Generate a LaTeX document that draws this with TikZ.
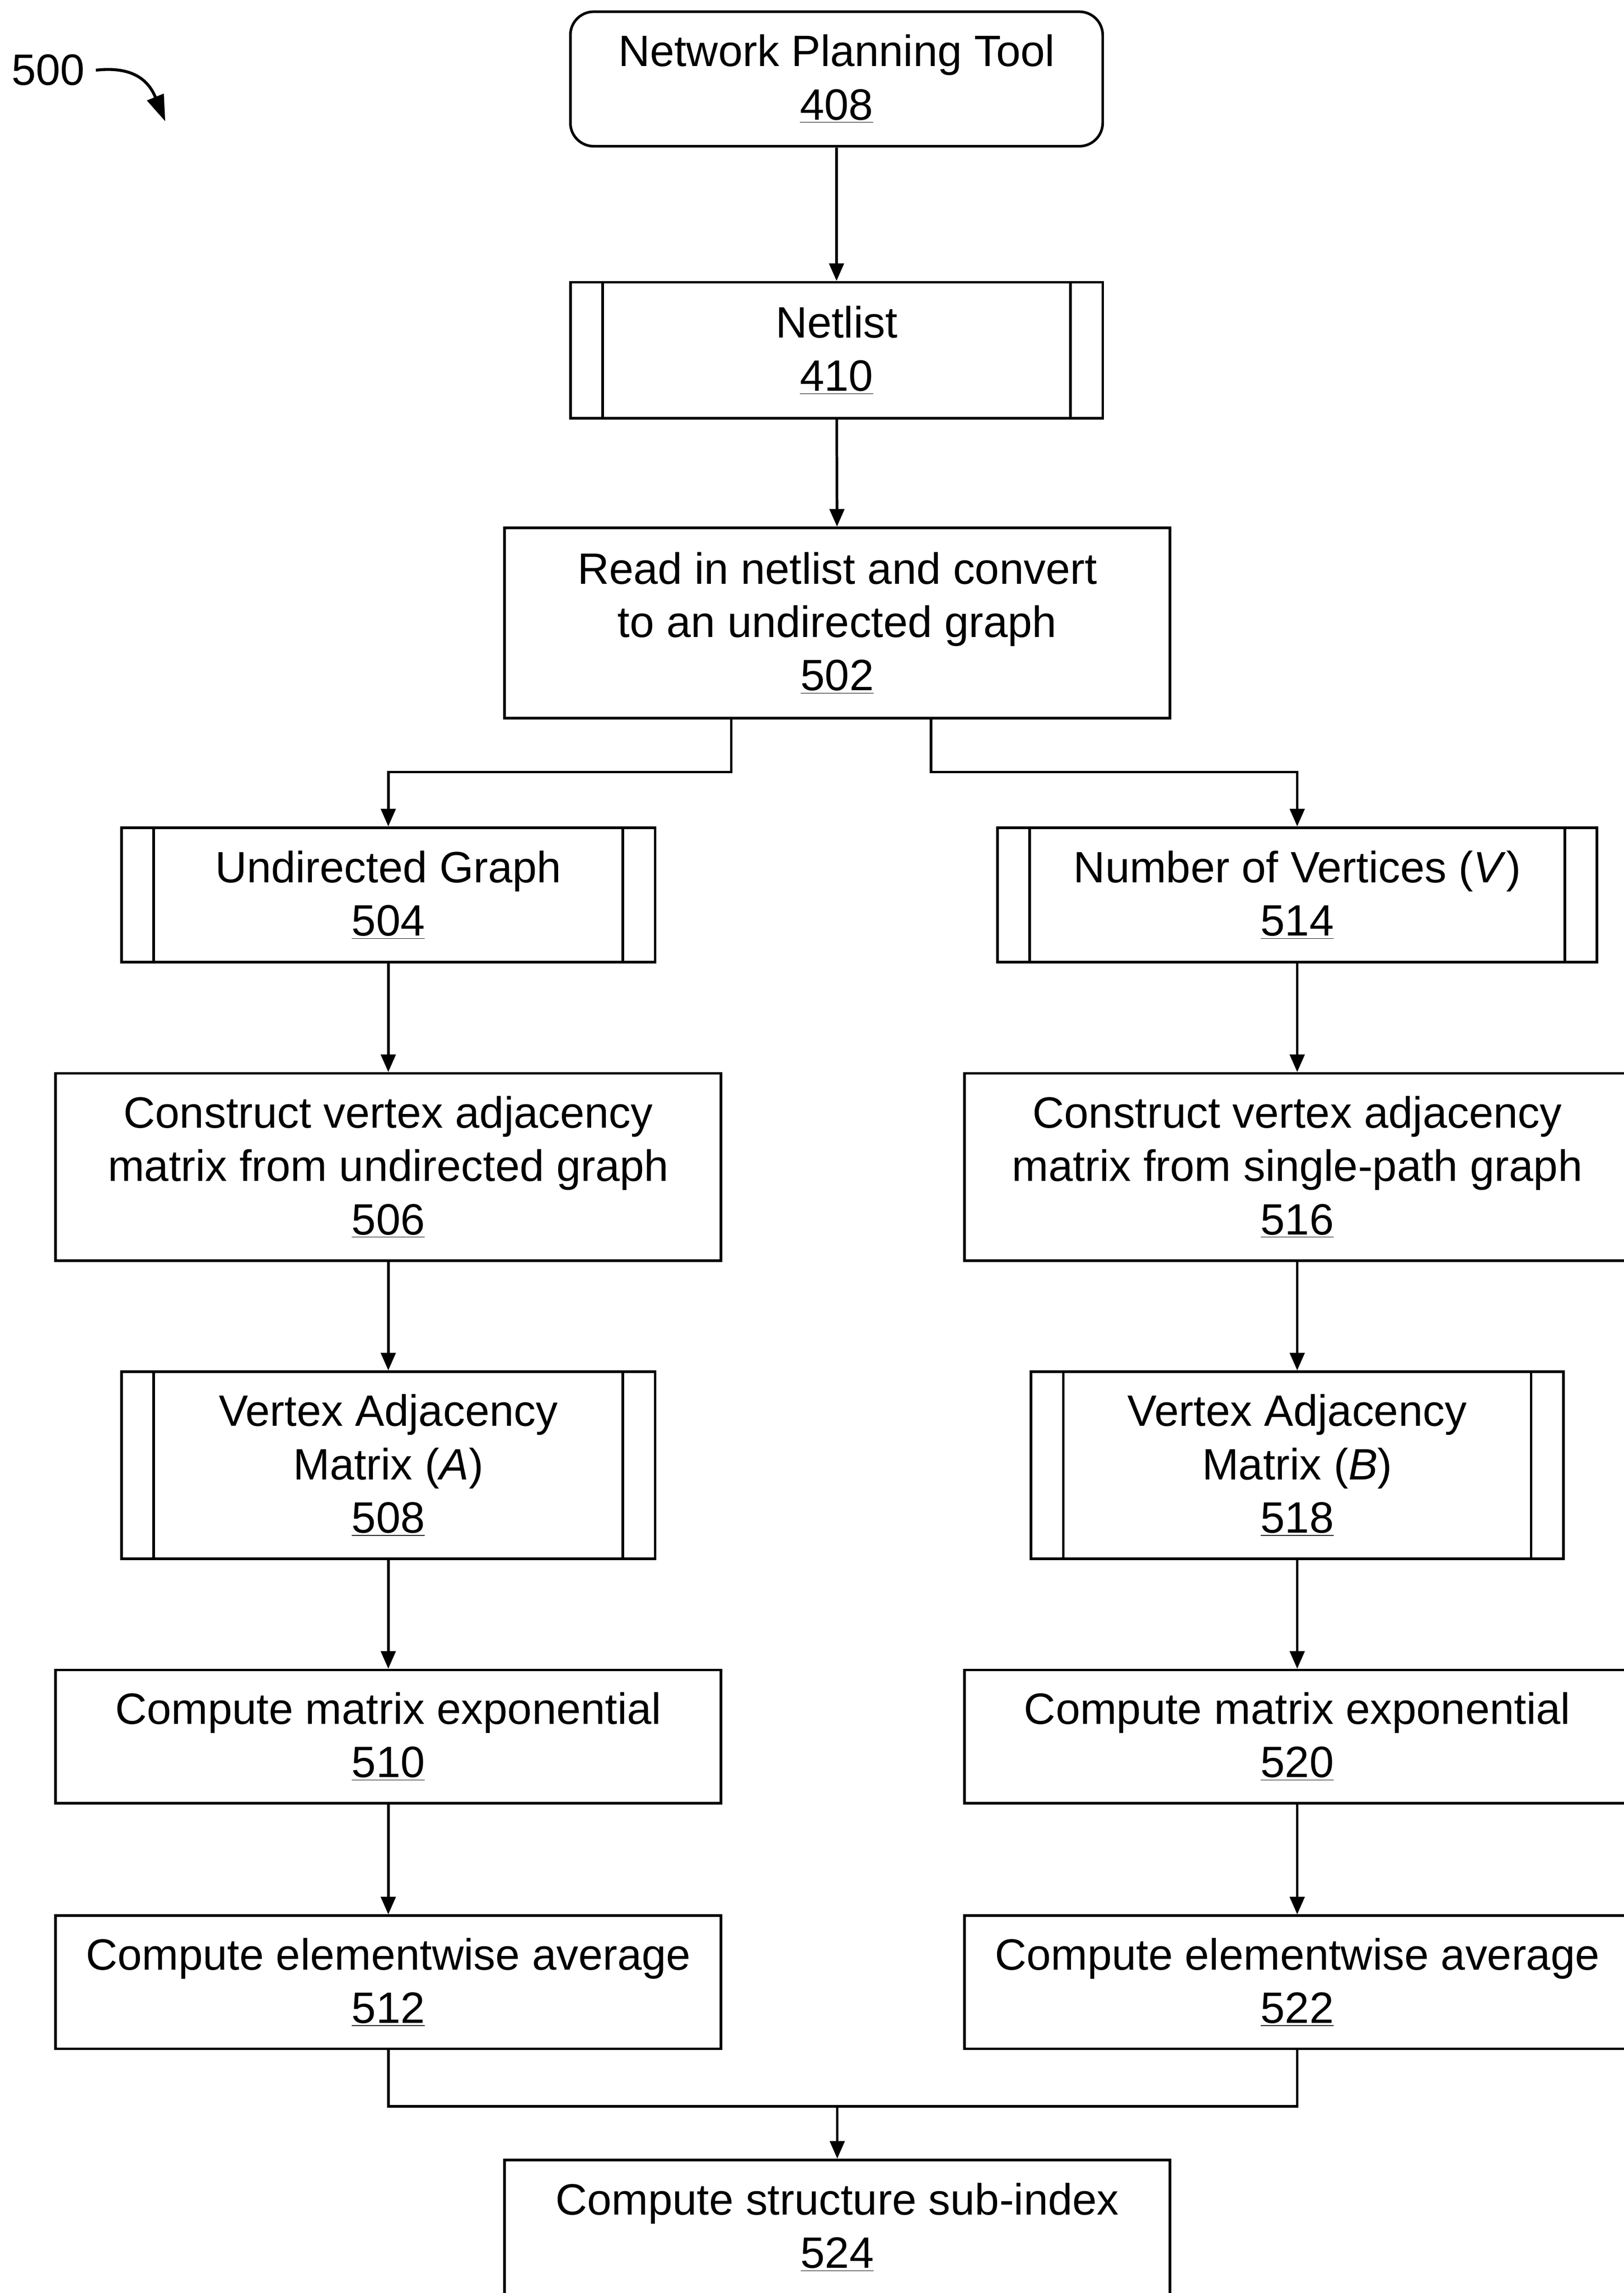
\documentclass[tikz,border=0pt]{standalone}
\usepackage{fontspec}
\setmainfont{Liberation Sans}
\usetikzlibrary{arrows.meta}
\begin{document}
\begin{tikzpicture}[x=1pt,y=-1pt,
  every node/.style={font=\fontsize{30}{36.5}\selectfont},
  box/.style={draw, line width=1.8pt, align=center, inner sep=0pt, fill=white},
  rbox/.style={box, rounded corners=16pt},
  arr/.style={line width=1.8pt, -{Triangle[length=12pt,width=10pt]}},
  ln/.style={line width=1.8pt}]
\useasboundingbox (0,0) rectangle (1110.35,1568);
% label
\node (lbl) at (33,48) {500};
\coordinate (tip500) at (113,83);
\draw[line width=2pt, -{Triangle[length=18pt,width=12pt]}] ([xshift=4pt]lbl.east) .. controls (92,45) and (102,56) .. (tip500);
% centre column
\node[rbox, minimum width=364pt, minimum height=92pt] (n408) at (572,54) {Network Planning Tool\\\underline{408}};
\node[box, minimum width=364pt, minimum height=93pt] (n410) at (572,239.5) {Netlist\\\underline{410}};
\node[box, minimum width=455pt, minimum height=130pt] (n502) at (572.5,426) {Read in netlist and convert\\to an undirected graph\\\underline{502}};
% left column
\node[box, minimum width=365pt, minimum height=92pt] (n504) at (265.5,612) {Undirected Graph\\\underline{504}};
\node[box, minimum width=455pt, minimum height=128pt] (n506) at (265.5,798) {Construct vertex adjacency\\matrix from undirected graph\\\underline{506}};
\node[box, minimum width=365pt, minimum height=128pt] (n508) at (265.5,1002) {Vertex Adjacency\\Matrix (\textit{A})\\\underline{508}};
\node[box, minimum width=455pt, minimum height=91pt] (n510) at (265.5,1187.5) {Compute matrix exponential\\\underline{510}};
\node[box, minimum width=455pt, minimum height=91pt] (n512) at (265.5,1355.5) {Compute elementwise average\\\underline{512}};
% right column
\node[box, minimum width=410pt, minimum height=92pt] (n514) at (887,612) {Number of Vertices (\textit{V})\\\underline{514}};
\node[box, minimum width=455pt, minimum height=128pt] (n516) at (887,798) {Construct vertex adjacency\\matrix from single-path graph\\\underline{516}};
\node[box, minimum width=364pt, minimum height=128pt] (n518) at (887,1002) {Vertex Adjacency\\Matrix (\textit{B})\\\underline{518}};
\node[box, minimum width=455pt, minimum height=91pt] (n520) at (887,1187.5) {Compute matrix exponential\\\underline{520}};
\node[box, minimum width=455pt, minimum height=91pt] (n522) at (887,1355.5) {Compute elementwise average\\\underline{522}};
% bottom
\node[box, minimum width=455pt, minimum height=92pt] (n524) at (572.5,1523) {Compute structure sub-index\\\underline{524}};
% side bars of the data boxes
\foreach \n in {n410,n504,n514,n508,n518} {
  \draw[ln] ([xshift=23pt]\n.north west) -- ([xshift=23pt]\n.south west);
  \draw[ln] ([xshift=-23pt]\n.north east) -- ([xshift=-23pt]\n.south east);
}
% connectors
\draw[arr] (n408) -- (n410);
\draw[arr] (n410) -- (n502);
\draw[arr] ([xshift=-72.5pt]n502.south) -- ++(0,36) -| (n504.north);
\draw[arr] ([xshift=64pt]n502.south) -- ++(0,36) -| (n514.north);
\draw[arr] (n504) -- (n506);
\draw[arr] (n506) -- (n508);
\draw[arr] (n508) -- (n510);
\draw[arr] (n510) -- (n512);
\draw[arr] (n514) -- (n516);
\draw[arr] (n516) -- (n518);
\draw[arr] (n518) -- (n520);
\draw[arr] (n520) -- (n522);
\draw[ln] (n512.south) -- ++(0,38.5) coordinate (mL) -| (n522.south);
\draw[arr] (n524.north |- mL) -- (n524.north);
\end{tikzpicture}
\end{document}
